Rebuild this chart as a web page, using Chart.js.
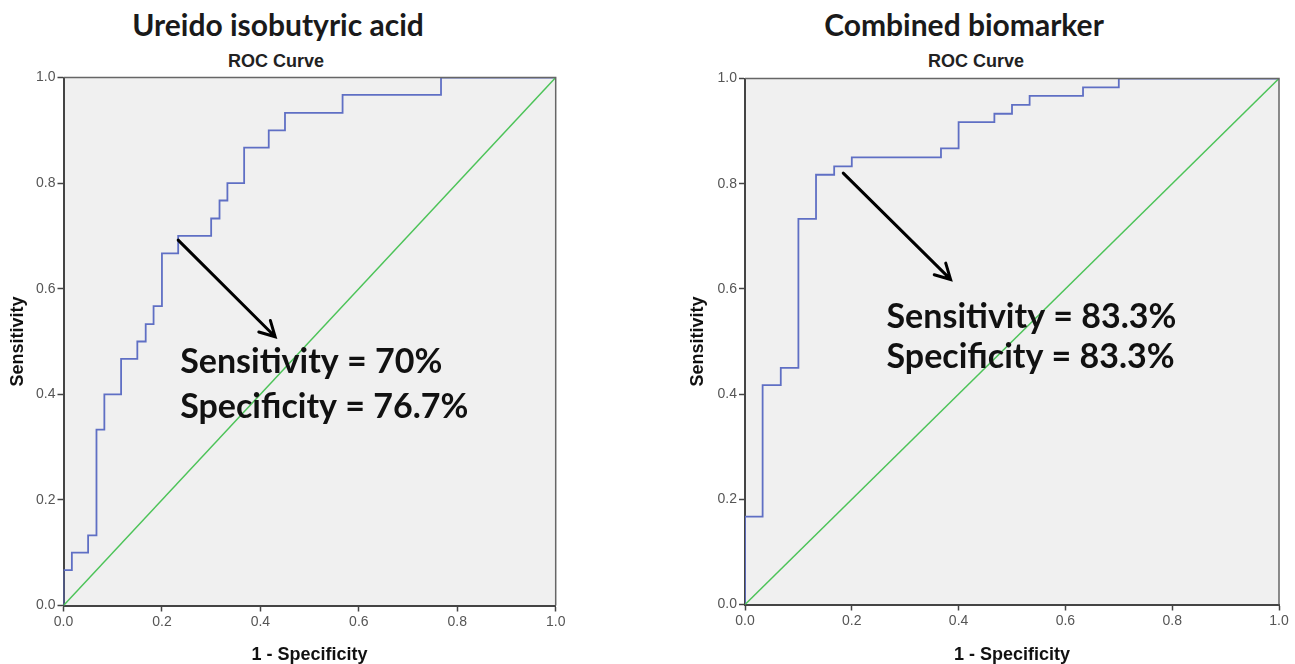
<!DOCTYPE html>
<html>
<head>
<meta charset="utf-8">
<script src="https://cdn.jsdelivr.net/npm/chart.js@4.4.1/dist/chart.umd.min.js"></script>
<style>
  body { margin: 0; width: 1295px; height: 664px; background: #fff; position: relative; overflow: hidden; }
  canvas { position: absolute; top: 0; }
  .title { position: absolute; font-family: Lato, sans-serif; font-weight: 700; font-size: 30px; color: #1a1a1a; transform: translate(-50%, -50%); white-space: nowrap; }
  .sub { position: absolute; font-family: "Liberation Sans", Arial, sans-serif; font-weight: 700; font-size: 18px; color: #222; transform: translate(-50%, -50%); white-space: nowrap; }
</style>
</head>
<body>
<div class="title" style="left:278px; top:24px;">Ureido isobutyric acid</div>
<div class="sub" style="left:276px; top:61px;">ROC Curve</div>
<div class="title" style="left:964px; top:24px;">Combined biomarker</div>
<div class="sub" style="left:976px; top:61px;">ROC Curve</div>
<canvas id="left" width="650" height="664" style="left:0px"></canvas>
<canvas id="right" width="615" height="664" style="left:680px"></canvas>
<script>
// ROC corners, 1 - specificity / sensitivity
const uibaFpr = [0, 0, 0.017, 0.017, 0.05, 0.05, 0.067, 0.067, 0.083, 0.083, 0.117, 0.117, 0.15, 0.15,
  0.167, 0.167, 0.183, 0.183, 0.2, 0.2, 0.233, 0.233, 0.3, 0.3, 0.317, 0.317, 0.333, 0.333, 0.367, 0.367,
  0.417, 0.417, 0.45, 0.45, 0.567, 0.567, 0.767, 0.767, 1];
const uibaTpr = [0, 0.067, 0.067, 0.1, 0.1, 0.133, 0.133, 0.333, 0.333, 0.4, 0.4, 0.467, 0.467, 0.5,
  0.5, 0.533, 0.533, 0.567, 0.567, 0.667, 0.667, 0.7, 0.7, 0.733, 0.733, 0.767, 0.767, 0.8, 0.8, 0.867,
  0.867, 0.9, 0.9, 0.933, 0.933, 0.967, 0.967, 1, 1];

const combFpr = [0, 0, 0.033, 0.033, 0.067, 0.067, 0.1, 0.1, 0.133, 0.133, 0.167, 0.167, 0.2, 0.2,
  0.367, 0.367, 0.4, 0.4, 0.467, 0.467, 0.5, 0.5, 0.533, 0.533, 0.633, 0.633, 0.7, 0.7, 1];
const combTpr = [0, 0.167, 0.167, 0.417, 0.417, 0.45, 0.45, 0.733, 0.733, 0.817, 0.817, 0.833, 0.833, 0.85,
  0.85, 0.867, 0.867, 0.917, 0.917, 0.933, 0.933, 0.95, 0.95, 0.967, 0.967, 0.983, 0.983, 1, 1];

const refLine = [0, 1];
const tickValues = [0, 0.2, 0.4, 0.6, 0.8, 1.0];

const uibaNote = ['Sensitivity = 70%', 'Specificity = 76.7%'];
const combNote = ['Sensitivity = 83.3%', 'Specificity = 83.3%'];

const BLUE = '#5f6fc4';
const GREEN = '#4cc358';

function pts(xs, ys) {
  return xs.map((x, i) => ({ x: x, y: ys[i] }));
}

// background, frame, arrow and text
const decor = {
  id: 'decor',
  beforeDraw(chart) {
    const a = chart.chartArea;
    const ctx = chart.ctx;
    ctx.save();
    ctx.fillStyle = '#f0f0f0';
    ctx.fillRect(a.left, a.top, a.right - a.left, a.bottom - a.top);
    ctx.restore();
  },
  afterDatasetsDraw(chart, args, opts) {
    const a = chart.chartArea;
    const ctx = chart.ctx;
    const xs = chart.scales.x, ys = chart.scales.y;
    ctx.save();
    ctx.strokeStyle = '#666';
    ctx.lineWidth = 1.5;
    ctx.beginPath();
    ctx.moveTo(a.left, a.top);
    ctx.lineTo(a.right, a.top);
    ctx.lineTo(a.right, a.bottom);
    ctx.stroke();

    // arrow
    const x0 = xs.getPixelForValue(opts.from[0]), y0 = ys.getPixelForValue(opts.from[1]);
    const x1 = xs.getPixelForValue(opts.to[0]), y1 = ys.getPixelForValue(opts.to[1]);
    const ang = Math.atan2(y1 - y0, x1 - x0);
    ctx.strokeStyle = '#000';
    ctx.lineWidth = 3;
    ctx.lineCap = 'round';
    ctx.beginPath();
    ctx.moveTo(x0, y0);
    ctx.lineTo(x1, y1);
    ctx.moveTo(x1 - 17 * Math.cos(ang - 0.5), y1 - 17 * Math.sin(ang - 0.5));
    ctx.lineTo(x1, y1);
    ctx.lineTo(x1 - 17 * Math.cos(ang + 0.5), y1 - 17 * Math.sin(ang + 0.5));
    ctx.stroke();

    // note
    ctx.fillStyle = '#111';
    ctx.font = '700 34px Lato, sans-serif';
    ctx.textBaseline = 'middle';
    const tx = xs.getPixelForValue(opts.text[0]), ty = ys.getPixelForValue(opts.text[1]);
    opts.lines.forEach((t, i) => ctx.fillText(t, tx, ty + i * opts.gap));
    ctx.restore();
  }
};

function makeChart(id, fpr, tpr, yWidth, pad, note) {
  const axisFont = { family: '"Liberation Sans", Arial, sans-serif', size: 14 };
  const titleFont = { family: '"Liberation Sans", Arial, sans-serif', size: 18, weight: 'bold', lineHeight: 1 };
  const common = {
    type: 'linear', min: 0, max: 1,
    afterBuildTicks: s => { s.ticks = tickValues.map(v => ({ value: v })); },
    border: { display: true, color: '#444', width: 2 },
    grid: { drawOnChartArea: false, drawTicks: true, tickLength: 6, tickColor: '#444', tickWidth: 1.5 },
    ticks: { font: axisFont, color: '#555', padding: 2, callback: v => Number(v).toFixed(1) }
  };
  return new Chart(document.getElementById(id), {
    type: 'scatter',
    data: {
      datasets: [
        { data: pts(refLine, refLine), showLine: true, borderColor: GREEN, borderWidth: 1.5, pointRadius: 0 },
        { data: pts(fpr, tpr), showLine: true, borderColor: BLUE, borderWidth: 1.8, pointRadius: 0 }
      ]
    },
    options: {
      responsive: false,
      animation: false,
      layout: { padding: pad },
      plugins: { legend: { display: false }, tooltip: { enabled: false }, decor: note },
      scales: {
        x: Object.assign({}, common, {
          afterFit: s => { s.height = pad.xh; },
          title: { display: true, text: '1 - Specificity', font: titleFont, color: '#111', padding: { top: 0, bottom: 0 } }
        }),
        y: Object.assign({}, common, {
          afterFit: s => { s.width = yWidth; },
          title: { display: true, text: 'Sensitivity', font: titleFont, color: '#111', padding: { top: 9, bottom: 2 } }
        })
      }
    },
    plugins: [decor]
  });
}

makeChart('left', uibaFpr, uibaTpr, 63.5,
  { top: 77.5, right: 94.3, bottom: 0, left: 0, xh: 58.5 },
  { from: [0.233, 0.692], to: [0.43, 0.509], text: [0.237, 0.461], gap: 45, lines: uibaNote });

makeChart('right', combFpr, combTpr, 65,
  { top: 78.5, right: 16, bottom: 0, left: 0, xh: 59.5 },
  { from: [0.184, 0.82], to: [0.385, 0.618], text: [0.265, 0.547], gap: 40, lines: combNote });
</script>
</body>
</html>
